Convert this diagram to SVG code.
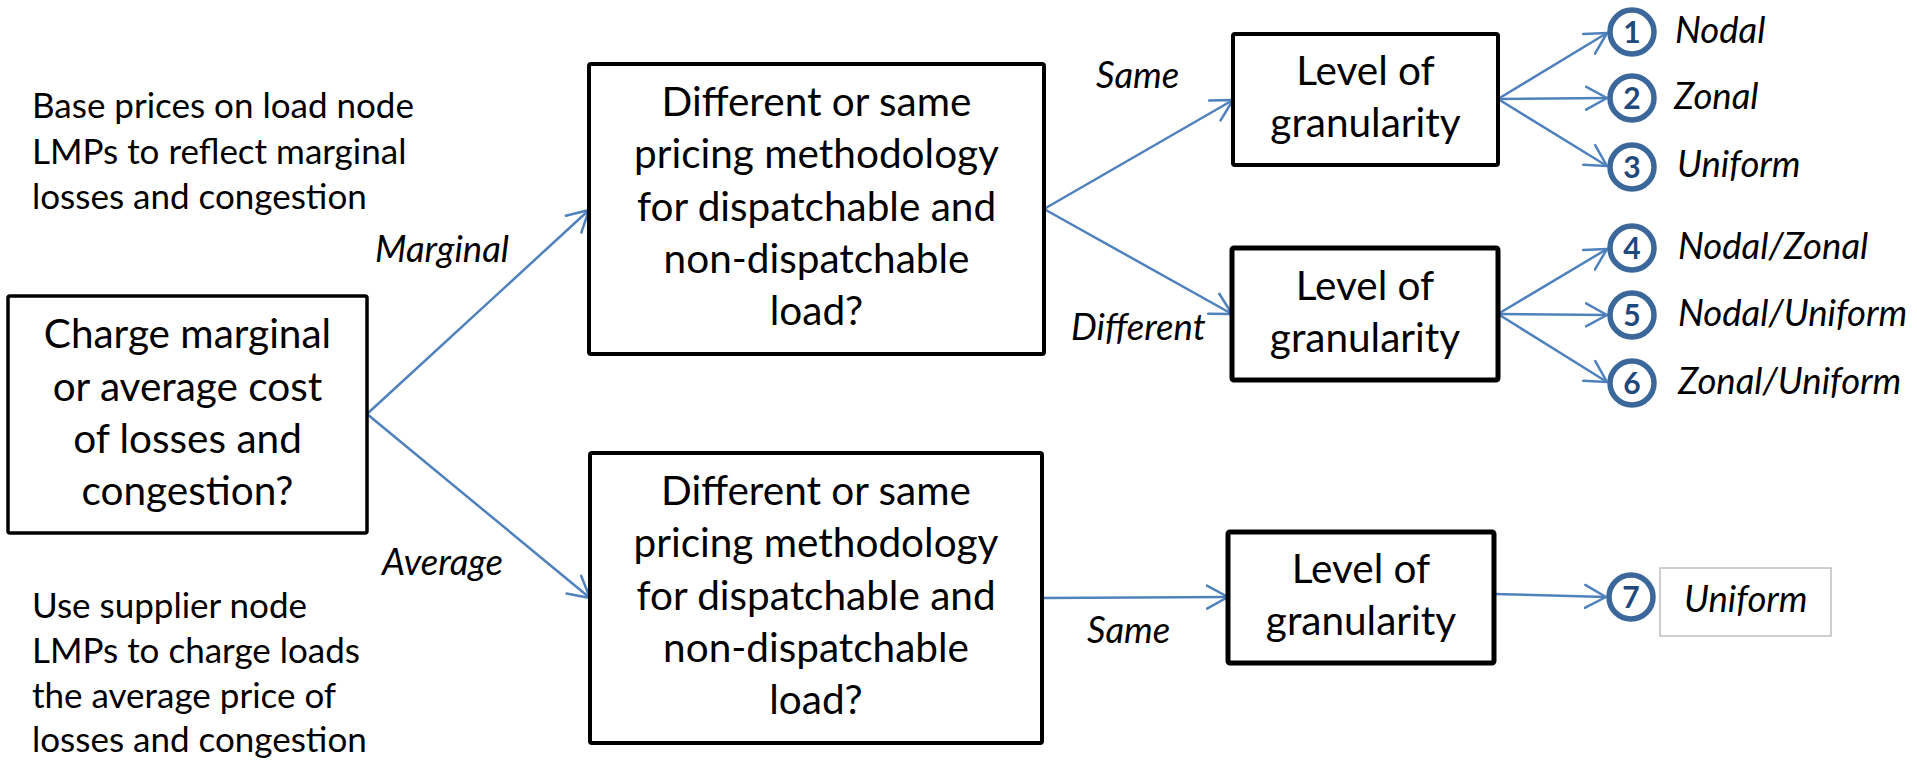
<svg xmlns="http://www.w3.org/2000/svg" width="1917" height="761" viewBox="0 0 1917 761">
  <style>
    .box { fill: #ffffff; stroke: #000000; }
    .t { font-family: Lato, "Open Sans", "Liberation Sans", sans-serif; fill: #000000; }
    .q { font-size: 40.5px; text-anchor: middle; }
    .note { font-size: 35px; }
    .lbl { font-size: 36.5px; font-style: italic; }
    .conn { fill: none; stroke: #4f81bd; stroke-width: 2.5; marker-end: url(#open); }
    .ring { fill: #ffffff; stroke: #3c679a; stroke-width: 5.5; }
    .num { font-family: Lato, "Liberation Sans", sans-serif; font-size: 30px; font-weight: bold; fill: #1f487c; text-anchor: middle; }
  </style>
  <defs>
    <marker id="open" viewBox="0 0 24 26" refX="22" refY="13" markerWidth="24" markerHeight="26" markerUnits="userSpaceOnUse" orient="auto">
      <path d="M1,1.5 L22,13 L1,24.5" fill="none" stroke="#4f81bd" stroke-width="2.5" stroke-linecap="round" stroke-linejoin="round"/>
    </marker>
  </defs>

  <rect width="1917" height="761" fill="#ffffff"/>

  <!-- side notes -->
  <g id="note-marginal" class="t note">
    <text x="32" y="118">Base prices on load node</text>
    <text x="32" y="164">LMPs to reflect marginal</text>
    <text x="32" y="209">losses and congestion</text>
  </g>
  <g id="note-average" class="t note">
    <text x="32" y="618">Use supplier node</text>
    <text x="32" y="663">LMPs to charge loads</text>
    <text x="32" y="708">the average price of</text>
    <text x="32" y="752">losses and congestion</text>
  </g>

  <!-- connectors -->
  <g id="connectors">
    <line class="conn" x1="367" y1="414" x2="589" y2="210"/>
    <line class="conn" x1="367" y1="414" x2="590" y2="598"/>
    <line class="conn" x1="1044" y1="209" x2="1233" y2="100"/>
    <line class="conn" x1="1044" y1="209" x2="1232" y2="314"/>
    <line class="conn" x1="1042" y1="598" x2="1228" y2="597"/>
    <line class="conn" x1="1498" y1="99" x2="1607" y2="33"/>
    <line class="conn" x1="1498" y1="99" x2="1607" y2="98"/>
    <line class="conn" x1="1498" y1="99" x2="1607" y2="166"/>
    <line class="conn" x1="1498" y1="314" x2="1607" y2="249"/>
    <line class="conn" x1="1498" y1="314" x2="1607" y2="315"/>
    <line class="conn" x1="1498" y1="314" x2="1607" y2="382"/>
    <line class="conn" x1="1494" y1="594" x2="1606" y2="597"/>
    <g class="t lbl">
      <text x="375" y="262">Marginal</text>
      <text x="382" y="575">Average</text>
      <text x="1096" y="88">Same</text>
      <text x="1071" y="340">Different</text>
      <text x="1087" y="643">Same</text>
    </g>
  </g>

  <!-- decision nodes -->
  <g id="cost-basis">
    <rect class="box" x="8" y="296" width="359" height="237" rx="2" stroke-width="3.5"/>
    <g class="t q">
      <text x="187.5" y="348">Charge marginal</text>
      <text x="187.5" y="400.5">or average cost</text>
      <text x="187.5" y="452.5">of losses and</text>
      <text x="187.5" y="504.5">congestion?</text>
    </g>
  </g>
  <g id="method-marginal">
    <rect class="box" x="589" y="64" width="455" height="290" rx="2" stroke-width="4"/>
    <g class="t q">
      <text x="816.5" y="116">Different or same</text>
      <text x="816.5" y="168.3">pricing methodology</text>
      <text x="816.5" y="220.6">for dispatchable and</text>
      <text x="816.5" y="272.9">non-dispatchable</text>
      <text x="816.5" y="325.2">load?</text>
    </g>
  </g>
  <g id="method-average">
    <rect class="box" x="590" y="453" width="452" height="290" rx="2" stroke-width="4"/>
    <g class="t q">
      <text x="816" y="505">Different or same</text>
      <text x="816" y="557.3">pricing methodology</text>
      <text x="816" y="609.6">for dispatchable and</text>
      <text x="816" y="661.9">non-dispatchable</text>
      <text x="816" y="714.2">load?</text>
    </g>
  </g>
  <g id="granularity-same">
    <rect class="box" x="1233" y="34" width="265" height="131" rx="2" stroke-width="4"/>
    <g class="t q">
      <text x="1365.5" y="85">Level of</text>
      <text x="1365.5" y="137">granularity</text>
    </g>
  </g>
  <g id="granularity-different">
    <rect class="box" x="1232" y="248" width="266" height="132" rx="2" stroke-width="5"/>
    <g class="t q">
      <text x="1365" y="300">Level of</text>
      <text x="1365" y="352">granularity</text>
    </g>
  </g>
  <g id="granularity-average">
    <rect class="box" x="1228" y="532" width="266" height="131" rx="2" stroke-width="5"/>
    <g class="t q">
      <text x="1361" y="583">Level of</text>
      <text x="1361" y="635">granularity</text>
    </g>
  </g>

  <!-- outcomes -->
  <g id="opt-1">
    <circle class="ring" cx="1632" cy="32" r="22"/>
    <text class="num" x="1632" y="43">1</text>
    <text class="t lbl" x="1675" y="43">Nodal</text>
  </g>
  <g id="opt-2">
    <circle class="ring" cx="1632" cy="98" r="22"/>
    <text class="num" x="1632" y="109">2</text>
    <text class="t lbl" x="1674" y="109">Zonal</text>
  </g>
  <g id="opt-3">
    <circle class="ring" cx="1632" cy="167" r="22"/>
    <text class="num" x="1632" y="178">3</text>
    <text class="t lbl" x="1677" y="177">Uniform</text>
  </g>
  <g id="opt-4">
    <circle class="ring" cx="1632" cy="248" r="22"/>
    <text class="num" x="1632" y="259">4</text>
    <text class="t lbl" x="1678" y="259">Nodal/Zonal</text>
  </g>
  <g id="opt-5">
    <circle class="ring" cx="1632" cy="315" r="22"/>
    <text class="num" x="1632" y="326">5</text>
    <text class="t lbl" x="1678" y="326">Nodal/Uniform</text>
  </g>
  <g id="opt-6">
    <circle class="ring" cx="1632" cy="383" r="22"/>
    <text class="num" x="1632" y="394">6</text>
    <text class="t lbl" x="1678" y="394">Zonal/Uniform</text>
  </g>
  <g id="opt-7">
    <circle class="ring" cx="1631" cy="597" r="22"/>
    <text class="num" x="1631" y="608">7</text>
    <rect x="1660" y="568" width="171" height="68" fill="#ffffff" stroke="#bfbfbf" stroke-width="1.5"/>
    <text class="t lbl" x="1684" y="612">Uniform</text>
  </g>
</svg>
